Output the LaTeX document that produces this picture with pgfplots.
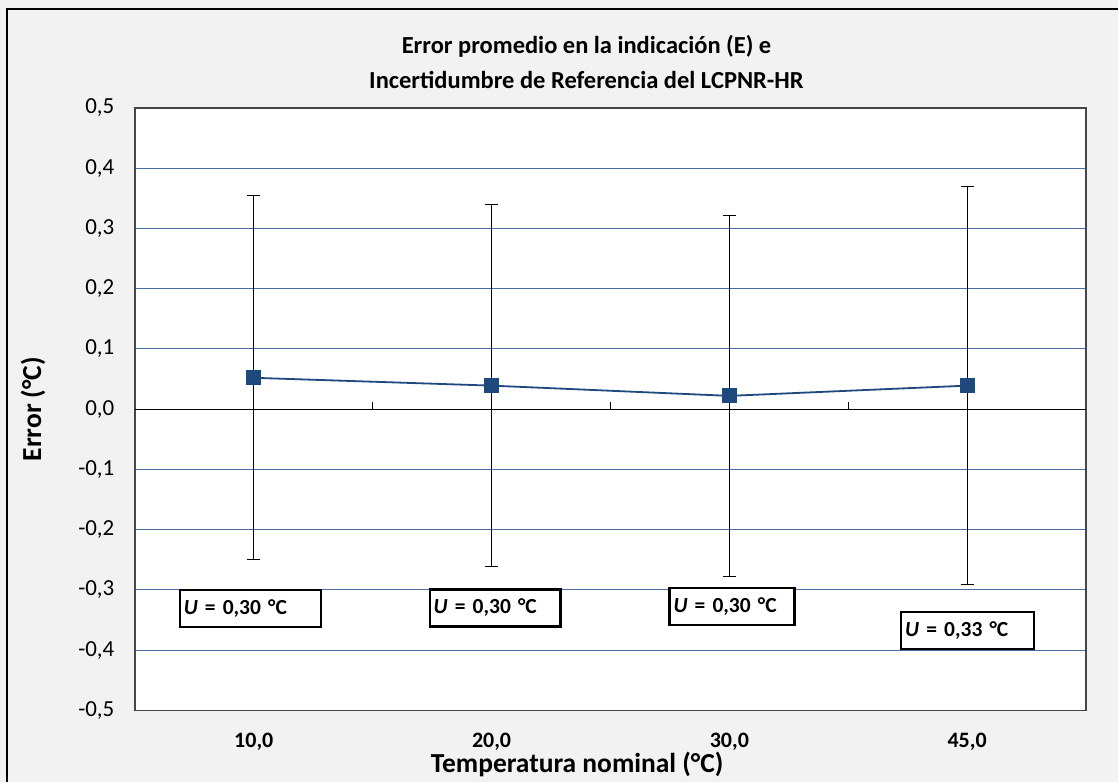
\documentclass[border=0pt]{standalone}
\usepackage{pgfplots}
\pgfplotsset{compat=1.18}
\usepackage{fontspec}
\setmainfont{Carlito}
\definecolor{bg}{RGB}{242,242,242}
\definecolor{gridblue}{RGB}{74,110,160}
\definecolor{serblue}{RGB}{31,73,125}
\definecolor{frame}{RGB}{70,70,70}
\begin{document}
\begin{tikzpicture}[x=1pt,y=1pt]
\fill[bg] (0,0) rectangle (1119,783);
\draw[black,line width=2pt] (7,0) -- (7,774) -- (1119,774);
\node[font=\fontsize{24.5}{28}\selectfont\bfseries] at (587,737) {Error promedio en la indicación (E) e};
\node[font=\fontsize{24.5}{28}\selectfont\bfseries] at (587,703) {Incertidumbre de Referencia del LCPNR-HR};
\begin{axis}[
  at={(135pt,72pt)}, anchor=south west,
  scale only axis, width=952pt, height=603pt,
  xmin=0.5, xmax=4.5, ymin=-0.5, ymax=0.5,
  axis background/.style={fill=white},
  axis line style={frame,line width=1.5pt},
  xtick={1,2,3,4},
  xticklabels={{10,0},{20,0},{30,0},{45,0}},
  xticklabel style={font=\fontsize{22}{26}\selectfont\bfseries, yshift=-19pt},
  ytick={-0.5,-0.4,...,0.55},
  yticklabel style={font=\fontsize{23}{27}\selectfont, xshift=-17pt},
  /pgf/number format/.cd, use comma, fixed, fixed zerofill, precision=1, assume math mode=true,
  /pgfplots/.cd,
  major tick length=0pt,
  ymajorgrids, grid style={gridblue,line width=1pt},
  extra y ticks={0}, extra y tick labels={},
  extra y tick style={grid style={black,line width=1pt}},
  xlabel={Temperatura nominal (°C)},
  xlabel style={font=\fontsize{27.5}{31}\selectfont\bfseries, at={(rel axis cs:0.465,-0.0896)}, anchor=center},
  ylabel={Error (°C)},
  ylabel style={font=\fontsize{27.5}{31}\selectfont\bfseries, at={(rel axis cs:-0.1071,0.5)}, anchor=center},
  clip=false,
]
\draw[black,line width=1pt] (axis cs:1.5,0) -- ([yshift=7pt]axis cs:1.5,0);
\draw[black,line width=1pt] (axis cs:2.5,0) -- ([yshift=7pt]axis cs:2.5,0);
\draw[black,line width=1pt] (axis cs:3.5,0) -- ([yshift=7pt]axis cs:3.5,0);
\addplot[serblue, line width=1.8pt, mark=square*, mark size=6.5pt,
  mark options={fill=serblue,draw=serblue,solid},
  error bars/.cd, y dir=both, y explicit,
  error bar style={black,line width=1.2pt},
  error mark options={black,line width=1.2pt,mark size=6.5pt,rotate=90}]
 coordinates {
 (1,0.052) +- (0,0.302)
 (2,0.039) +- (0,0.300)
 (3,0.022) +- (0,0.300)
 (4,0.039) +- (0,0.330)
 };
\tikzset{ubox/.style={draw=black,line width=2.2pt,fill=white,inner sep=4pt,align=left,minimum height=37pt,font=\fontsize{21.5}{25}\selectfont\bfseries}}
\node[ubox,text width=133pt] at (axis cs:0.985,-0.331) {\textit{U} = 0,30 °C};
\node[ubox,text width=123pt] at (axis cs:2.015,-0.330) {\textit{U} = 0,30 °C};
\node[ubox,text width=117pt] at (axis cs:3.011,-0.328) {\textit{U} = 0,30 °C};
\node[ubox,text width=125pt] at (axis cs:4.002,-0.367) {\textit{U} = 0,33 °C};
\end{axis}
\end{tikzpicture}
\end{document}
